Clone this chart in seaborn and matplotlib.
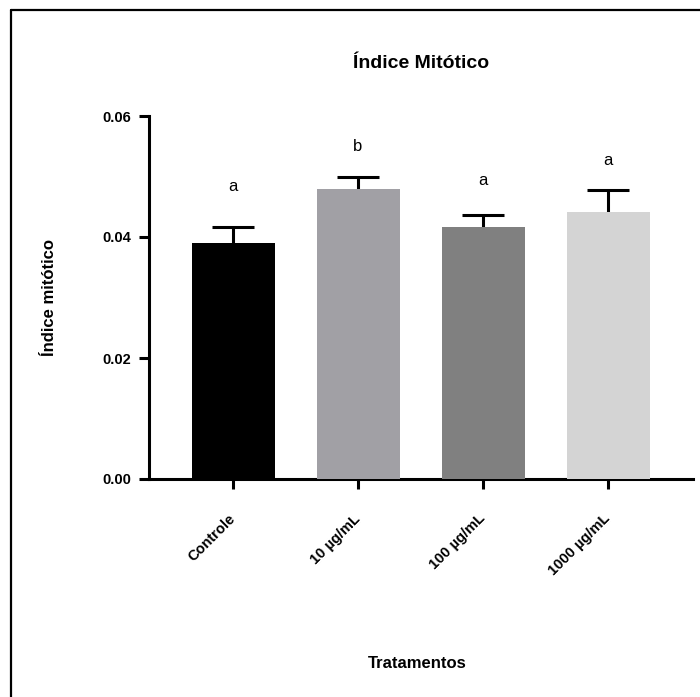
import matplotlib
matplotlib.use("Agg")
import matplotlib.pyplot as plt
import matplotlib.transforms as mtransforms
from matplotlib.lines import Line2D
import seaborn as sns
import pandas as pd

categories = ["Controle", "10 µg/mL", "100 µg/mL", "1000 µg/mL"]
means = [0.0390, 0.0480, 0.0416, 0.0441]
sems = [0.0026, 0.0019, 0.0020, 0.0037]
letters = ["a", "b", "a", "a"]
letter_y = [0.0483, 0.0549, 0.0493, 0.0527]
colors = ["#000000", "#a1a0a5", "#808080", "#d4d4d4"]
yticks = [0.00, 0.02, 0.04, 0.06]
ytick_labels = ["0.00", "0.02", "0.04", "0.06"]

sns.set_theme(style="white")
plt.rcParams["font.family"] = ["Liberation Sans", "DejaVu Sans"]
plt.rcParams["text.color"] = "black"
plt.rcParams["axes.labelcolor"] = "black"
plt.rcParams["xtick.color"] = "black"
plt.rcParams["ytick.color"] = "black"

df = pd.DataFrame({"Tratamento": categories, "Indice": means})

fig = plt.figure(figsize=(7.0, 6.97), dpi=100)
ax = fig.add_axes([149 / 700, 1 - 479 / 697, (693 - 149) / 700, (479 - 116) / 697])

sns.barplot(data=df, x="Tratamento", y="Indice", hue="Tratamento",
            palette=colors, width=0.664, legend=False, ax=ax,
            errorbar=None, saturation=1, zorder=3, linewidth=0)

xpos = list(range(len(categories)))
ax.errorbar(xpos, means, yerr=sems, fmt="none", ecolor="black",
            elinewidth=2.2, capsize=15, capthick=2.2, zorder=2)

for x, t, ly in zip(xpos, letters, letter_y):
    ax.text(x, ly, t, ha="center", va="center", fontsize=12,
            color="black")

ax.set_xlim(-0.672, 3.68)
ax.set_ylim(0, 0.06)
ax.set_yticks(yticks)
ax.set_yticklabels(ytick_labels, fontsize=10.5, fontweight="bold")
ax.set_xticks(xpos)
ax.set_xticklabels(categories, fontsize=10.5, fontweight="bold",
                   rotation=45, ha="right", va="center",
                   rotation_mode="anchor")
offset = mtransforms.ScaledTranslation(4 / 100, 0, fig.dpi_scale_trans)
for lab in ax.get_xticklabels():
    lab.set_transform(lab.get_transform() + offset)

ax.set_xlabel("")
ax.set_ylabel("")
for side in ["top", "right"]:
    ax.spines[side].set_visible(False)
for side in ["left", "bottom"]:
    ax.spines[side].set_color("black")
    ax.spines[side].set_linewidth(2.2)
ax.tick_params(axis="y", which="both", left=True, length=7, width=2.2,
               color="black", pad=6, labelcolor="black")
ax.tick_params(axis="x", which="both", bottom=True, length=7, width=2.2,
               color="black", pad=20, labelcolor="black")
ax.grid(False)

fig.text(421 / 700, 1 - 63 / 697, "Índice Mitótico", ha="center",
         va="center", fontsize=14, fontweight="bold", color="black")
fig.text(50 / 700, 1 - 298 / 697, "Índice mitótico", ha="center",
         va="center", rotation=90, fontsize=12, fontweight="bold",
         color="black")
fig.text(417 / 700, 1 - 663 / 697, "Tratamentos", ha="center",
         va="center", fontsize=12, fontweight="bold", color="black")

# outer frame (left and top visible)
fig.add_artist(Line2D([11 / 700, 11 / 700], [0, 1 - 10 / 697],
                      transform=fig.transFigure, color="black", lw=1.6))
fig.add_artist(Line2D([11 / 700, 1], [1 - 10 / 697, 1 - 10 / 697],
                      transform=fig.transFigure, color="black", lw=1.6))

fig.savefig("out.png", dpi=100, facecolor="white")
